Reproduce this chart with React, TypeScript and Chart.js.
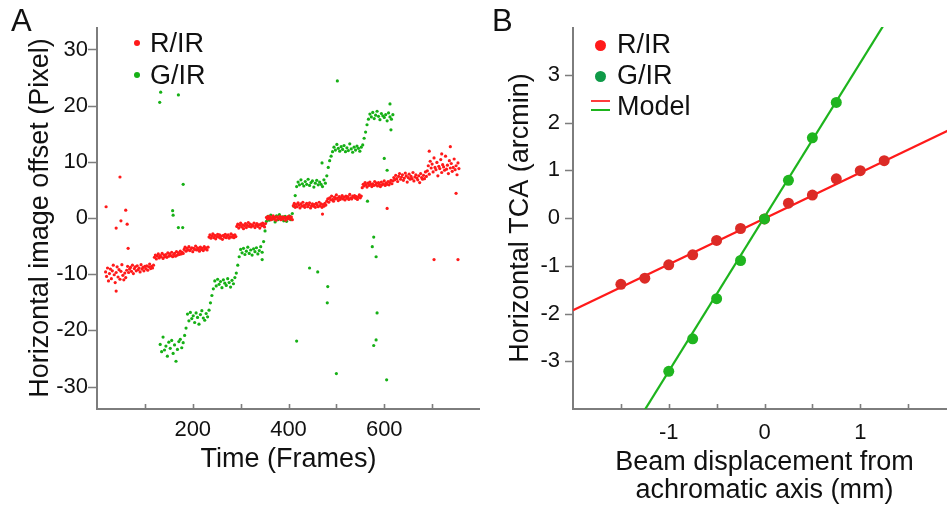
import React, { useEffect, useRef } from 'react';
import { Chart, registerables } from 'chart.js';

Chart.register(...registerables);

const FONT = '"Liberation Sans", Arial, Helvetica, sans-serif';
const AXIS_GREY = '#7d7d7d';

// ---------------- Panel A: image offset vs time ----------------
const redStartFrame = 18;
const redFrameStep = 2;
const redOffsets = [
  -9.6, -10.4, -8.9, -11.2, -9.9, -9.1, -10.8, -9.4, -8.4, -10.1, -11.5, -9.7, -8.7, -10.5, -9.2, -10.9, -9.5, -8.3, -10.2, -11.0, -9.8, -10.6,
  -9.3, -8.6, -9.7, -9.1, -8.8, -9.5, -8.4, -9.9, -9.0, -8.7, -9.4, -8.5, -9.2, -8.9, -9.6, -8.3, -9.1, -8.8, -9.4, -8.6, -9.0, -8.5, -9.3, -8.7, -8.2, -9.0, -8.6, -8.9, -8.4,
  -7.0, -6.6, -7.3, -6.8, -6.4, -7.1, -6.7, -6.9, -6.3, -7.2, -6.6, -6.9, -6.5, -7.0, -6.2, -6.8, -6.4, -6.7, -6.1, -6.9, -6.5, -6.3, -6.8, -6.0, -6.6, -6.2, -6.5, -5.9, -6.4, -6.1, -6.3,
  -5.6, -5.2, -5.9, -5.4, -5.7, -5.1, -5.8, -5.5, -5.3, -6.0, -5.4, -5.6, -5.0, -5.7, -5.3, -5.5, -5.9, -5.2, -5.6, -5.4, -5.8, -5.1, -5.5, -5.3, -5.7, -5.2,
  -3.4, -3.0, -3.6, -3.2, -2.8, -3.5, -3.1, -3.7, -3.3, -2.9, -3.4, -3.0, -3.6, -3.2, -3.8, -3.1, -3.4, -2.9, -3.5, -3.2, -3.0, -3.6, -3.3, -2.8, -3.4, -3.1, -3.5, -3.0, -3.3,
  -1.5, -1.1, -1.8, -1.3, -0.9, -1.6, -1.2, -1.9, -1.4, -1.0, -1.7, -1.3, -0.8, -1.5, -1.1, -1.6, -1.2, -1.4, -0.9, -1.7, -1.3, -1.0, -1.5, -1.2, -1.8, -1.1, -1.4, -0.9, -1.3, -1.6, -1.0,
  0.1, -0.2, 0.3, -0.1, 0.2, -0.3, 0.0, 0.4, -0.2, 0.1, -0.4, 0.2, 0.0, -0.1, 0.3, -0.3, 0.1, -0.2, 0.2, 0.0, -0.4, 0.1, -0.1, 0.3, -0.2, 0.0, 0.2, -0.3,
  2.2, 2.6, 1.9, 2.4, 2.0, 2.7, 2.3, 1.8, 2.5, 2.1, 2.8, 2.2, 1.9, 2.4, 2.6, 2.0, 2.3, 2.7, 1.8, 2.2, 2.5, 2.1, 2.4, 1.9, 2.6, 2.3, 2.0, 2.8, 2.2, 2.5, 1.9, 2.4, 2.1, 2.6, 2.3,
  3.0, 3.4, 2.8, 3.6, 3.2, 3.9, 3.3, 3.0, 3.7, 3.4, 4.1, 3.5, 3.1, 3.8, 3.3, 3.6, 4.0, 3.4, 3.7, 3.2, 3.9, 3.5, 3.8, 3.3, 4.2, 3.6, 3.4, 3.9, 3.7, 4.0, 3.5, 3.8, 3.3, 3.7, 4.1, 3.6, 3.9,
  5.4, 6.0, 5.7, 6.3, 5.9, 5.5, 6.2, 5.8, 6.4, 6.0, 5.6, 6.1, 5.8, 6.5, 5.9, 6.2, 5.7, 6.3, 6.0, 5.6, 6.4, 5.9, 6.1, 6.6, 5.8, 6.2, 6.0, 6.5, 5.9, 6.3, 6.7, 6.1,
  6.6, 7.2, 6.8, 7.6, 7.0, 6.5, 7.4, 7.9, 6.9, 7.3, 7.7, 6.7, 7.1, 8.0, 7.5, 6.4, 7.2, 7.8, 6.9, 7.4, 7.0, 8.1, 6.6, 7.3, 7.7, 7.1, 6.8, 7.5, 6.3, 7.9, 7.2, 6.9, 7.6, 7.0, 8.2, 7.4,
  8.4, 9.3, 7.8, 10.1, 8.9, 9.6, 8.2, 10.7, 9.0, 8.6, 9.9, 7.5, 9.2, 8.8, 10.4, 8.1, 9.5, 9.1, 8.5, 11.0, 8.7, 9.4, 7.9, 10.2, 8.9, 9.7, 8.3, 9.0, 10.5, 8.6, 9.3, 7.7, 9.8, 8.8,
];
const redOutlierFrames = [19, 48, 40, 50, 60, 63, 65, 40, 704, 754, 606, 471, 750, 738, 694, 720];
const redOutlierOffsets = [2.0, 7.3, -1.8, -0.5, 1.4, -1.1, -5.4, -13.0, -7.4, -7.4, 1.7, 0.7, 4.4, 12.7, 11.9, 11.4];

const greenStartFrame = 132;
const greenFrameStep = 3;
const greenOffsets = [
  -22.5, -23.8, -21.2, -23.5, -22.8, -24.6, -22.1, -23.2, -21.8, -24.1, -22.6, -25.5, -23.4, -22.0, -21.6, -23.1, -22.2,
  -20.9, -19.6,
  -17.1, -18.3, -16.8, -17.9, -17.4, -18.6, -16.9, -17.7, -18.9, -17.2, -16.5, -17.8, -18.2, -17.0, -17.6, -16.4,
  -15.1, -13.8, -12.6,
  -11.2, -12.1, -10.9, -11.8, -11.3, -12.4, -11.0, -11.6, -12.0, -10.8, -11.5, -12.3, -11.1, -11.7, -10.6,
  -9.8, -8.4, -6.9,
  -5.6, -6.2, -5.4, -6.5, -5.9, -5.2, -6.3, -5.7, -6.6, -5.5, -6.0, -5.3, -6.4, -5.8, -5.1, -6.1,
  -4.2, -2.3, -0.6,
  0.3, -0.4, 0.5, -0.2, 0.1, -0.7, 0.4, -0.3, 0.6, -0.1, 0.2, -0.5, 0.3, -0.6, 0.0, 0.4, -0.3, 0.8,
  2.1, 4.0, 5.6,
  6.4, 5.9, 6.8, 6.1, 5.7, 6.5, 6.0, 6.9, 5.8, 6.3, 6.6, 5.5, 6.2, 6.7, 5.9, 6.4, 6.0, 5.6, 6.8, 6.2,
  7.5, 9.0, 10.2, 11.0, 11.8,
  12.6, 12.1, 13.1, 12.4, 11.9, 12.7, 12.2, 12.9, 11.8, 12.5, 12.0, 13.2, 12.3, 11.7, 12.6, 12.1, 12.8, 12.4, 11.9, 12.6, 13.0,
  14.2, 15.3, 16.6, 17.6,
  18.5, 18.0, 18.8, 17.7, 18.3, 19.0, 18.1, 17.5, 18.6, 18.2, 17.9, 18.4, 17.3, 18.7, 18.0, 17.6, 18.4,
];
const greenOutlierFrames = [133, 131, 170, 180, 158, 159, 170, 179, 502, 612, 614, 600, 606, 565, 578, 575, 470, 345, 444, 461, 482, 481, 417, 500, 585, 583, 578, 605, 583];
const greenOutlierOffsets = [22.4, 20.6, 21.9, 6.0, 1.3, 0.5, -1.7, -1.7, 24.4, 20.3, 15.7, 10.6, 8.5, 3.0, -3.4, -5.1, 9.8, -7.4, -8.9, -9.6, -12.2, -15.1, -21.9, -27.7, -16.9, -21.7, -22.7, -28.8, -6.9];

const aXMin = 0;
const aXMax = 800;
const aYMin = -34;
const aYMax = 34;
const aXTickLabels = [200, 400, 600];
const aXTickMarks = [100, 200, 300, 400, 500, 600, 700];
const aYTicks = [-30, -20, -10, 0, 10, 20, 30];

// ---------------- Panel B: TCA vs beam displacement ----------------
const bRedX = [-1.5, -1.25, -1, -0.75, -0.5, -0.25, 0, 0.25, 0.5, 0.75, 1, 1.25];
const bRedY = [-1.39, -1.26, -0.98, -0.77, -0.47, -0.22, -0.02, 0.31, 0.48, 0.82, 0.99, 1.2];
const bGreenX = [-1, -0.75, -0.5, -0.25, 0, 0.25, 0.5, 0.75];
const bGreenY = [-3.21, -2.53, -1.69, -0.89, -0.02, 0.79, 1.68, 2.42];
const redModelSlope = 0.96;
const redModelIntercept = -0.01;
const greenModelSlope = 3.23;
const greenModelIntercept = 0.02;
const bXMin = -2;
const bXMax = 2;
const bYMin = -4;
const bYMax = 4;
const bXTickLabels = [-1, 0, 1];
const bXTickMarks = [-1.5, -1, -0.5, 0, 0.5, 1, 1.5];
const bYTicks = [-3, -2, -1, 0, 1, 2, 3];

const seriesFromStep = (start: number, step: number, vals: number[]) =>
  vals.map((v, i) => ({ x: start + i * step, y: v }));
const pairs = (xs: number[], ys: number[]) => xs.map((x, i) => ({ x, y: ys[i] }));

const axisPlugin = {
  id: 'axisPlugin',
  beforeDatasetsDraw(chart: any, _args: any, opts: any) {
    const { ctx, chartArea: ca, scales } = chart;
    const xs = scales.x;
    const ys = scales.y;
    ctx.save();
    ctx.strokeStyle = AXIS_GREY;
    ctx.lineWidth = 2;
    ctx.beginPath();
    ctx.moveTo(ca.left, ca.top);
    ctx.lineTo(ca.left, ca.bottom);
    ctx.lineTo(ca.right, ca.bottom);
    ctx.stroke();
    ctx.lineWidth = 1.6;
    ctx.beginPath();
    for (const v of opts.yMarks) {
      const py = Math.round(ys.getPixelForValue(v)) + 0.5;
      ctx.moveTo(ca.left - opts.yLen, py);
      ctx.lineTo(ca.left, py);
    }
    for (const v of opts.xMarks) {
      const px = Math.round(xs.getPixelForValue(v)) + 0.5;
      ctx.moveTo(px, ca.bottom);
      ctx.lineTo(px, ca.bottom - opts.xLen);
    }
    ctx.stroke();
    ctx.restore();
  },
};

function baseScales(o: any) {
  return {
    x: {
      type: 'linear',
      min: o.xMin,
      max: o.xMax,
      afterFit: (s: any) => { s.height = o.xAxisHeight; },
      afterBuildTicks: (s: any) => { s.ticks = o.xLabels.map((v: number) => ({ value: v })); },
      grid: { display: false, drawTicks: false },
      border: { display: false },
      ticks: {
        color: '#111',
        font: { family: FONT, size: 22 },
        padding: o.xTickPad,
        maxRotation: 0,
        autoSkip: false,
        callback: (v: number) => String(v),
      },
      title: {
        display: true,
        text: o.xTitle,
        color: '#111',
        font: { family: FONT, size: 27, lineHeight: o.xTitleLH },
        padding: { top: 0, bottom: o.xTitlePad },
      },
    },
    y: {
      type: 'linear',
      min: o.yMin,
      max: o.yMax,
      afterFit: (s: any) => { s.width = o.yAxisWidth; },
      afterBuildTicks: (s: any) => { s.ticks = o.yLabels.map((v: number) => ({ value: v })); },
      grid: { display: false, drawTicks: false },
      border: { display: false },
      ticks: {
        color: '#111',
        font: { family: FONT, size: 22 },
        padding: o.yTickPad,
        autoSkip: false,
        callback: (v: number) => String(v),
      },
      title: {
        display: true,
        text: o.yTitle,
        color: '#111',
        font: { family: FONT, size: 27, lineHeight: 1.2 },
        padding: { top: 24, bottom: 0 },
      },
    },
  };
}

function configA(): any {
  return {
    type: 'scatter',
    data: {
      datasets: [
        {
          label: 'R/IR',
          data: [...seriesFromStep(redStartFrame, redFrameStep, redOffsets), ...pairs(redOutlierFrames, redOutlierOffsets)],
          backgroundColor: '#ff1a1a',
          borderWidth: 0,
          pointRadius: 1.6,
        },
        {
          label: 'G/IR',
          data: [...seriesFromStep(greenStartFrame, greenFrameStep, greenOffsets), ...pairs(greenOutlierFrames, greenOutlierOffsets)],
          backgroundColor: '#16b016',
          borderWidth: 0,
          pointRadius: 1.6,
        },
      ],
    },
    options: {
      responsive: false,
      animation: false,
      devicePixelRatio: 1,
      events: [],
      layout: { padding: { top: 27, right: 10, left: 0, bottom: 0 } },
      plugins: {
        legend: { display: false },
        tooltip: { enabled: false },
        axisPlugin: { yMarks: aYTicks, xMarks: aXTickMarks, yLen: 9, xLen: 5 },
      },
      scales: baseScales({
        xMin: aXMin, xMax: aXMax, yMin: aYMin, yMax: aYMax,
        xAxisHeight: 99, yAxisWidth: 97,
        xLabels: aXTickLabels, yLabels: aYTicks,
        xTickPad: 8, yTickPad: 9,
        xTitle: 'Time (Frames)', xTitleLH: 1.2, xTitlePad: 32,
        yTitle: 'Horizontal image offset (Pixel)',
      }),
    },
    plugins: [axisPlugin],
  };
}

function configB(): any {
  const modelXs = [bXMin, bXMax];
  return {
    type: 'scatter',
    data: {
      datasets: [
        {
          label: 'G/IR',
          data: pairs(bGreenX, bGreenY),
          backgroundColor: '#1fb51f',
          borderWidth: 0,
          pointRadius: 5.5,
          order: 1,
        },
        {
          label: 'R/IR',
          data: pairs(bRedX, bRedY),
          backgroundColor: '#dc2b26',
          borderWidth: 0,
          pointRadius: 5.5,
          order: 2,
        },
        {
          label: 'Model G/IR',
          type: 'line',
          data: modelXs.map((x) => ({ x, y: greenModelSlope * x + greenModelIntercept })),
          borderColor: '#1db41d',
          borderWidth: 2.2,
          pointRadius: 0,
          showLine: true,
          order: 3,
        },
        {
          label: 'Model R/IR',
          type: 'line',
          data: modelXs.map((x) => ({ x, y: redModelSlope * x + redModelIntercept })),
          borderColor: '#ff1a1a',
          borderWidth: 2.2,
          pointRadius: 0,
          showLine: true,
          order: 4,
        },
      ],
    },
    options: {
      responsive: false,
      animation: false,
      devicePixelRatio: 1,
      events: [],
      layout: { padding: { top: 27, right: 10, left: 0, bottom: 0 } },
      plugins: {
        legend: { display: false },
        tooltip: { enabled: false },
        axisPlugin: { yMarks: bYTicks, xMarks: bXTickMarks, yLen: 8, xLen: 5 },
      },
      scales: baseScales({
        xMin: bXMin, xMax: bXMax, yMin: bYMin, yMax: bYMax,
        xAxisHeight: 99, yAxisWidth: 93,
        xLabels: bXTickLabels, yLabels: bYTicks,
        xTickPad: 11, yTickPad: 13,
        xTitle: ['Beam displacement from', 'achromatic axis (mm)'], xTitleLH: 28 / 27, xTitlePad: 3,
        yTitle: 'Horizontal TCA (arcmin)',
      }),
    },
    plugins: [axisPlugin],
  };
}

const txt: React.CSSProperties = {
  position: 'absolute',
  fontFamily: FONT,
  fontSize: 27,
  lineHeight: '27px',
  color: '#111',
  whiteSpace: 'nowrap',
};

function Dot({ cx, cy, r, color }: { cx: number; cy: number; r: number; color: string }) {
  return (
    <div
      style={{
        position: 'absolute',
        left: cx - r,
        top: cy - r,
        width: 2 * r,
        height: 2 * r,
        borderRadius: '50%',
        background: color,
      }}
    />
  );
}

export default function App() {
  const refA = useRef<HTMLCanvasElement>(null);
  const refB = useRef<HTMLCanvasElement>(null);

  useEffect(() => {
    const a = new Chart(refA.current as HTMLCanvasElement, configA());
    const b = new Chart(refB.current as HTMLCanvasElement, configB());
    return () => {
      a.destroy();
      b.destroy();
    };
  }, []);

  return (
    <div
      style={{
        position: 'fixed',
        left: 0,
        top: 0,
        width: 947,
        height: 508,
        background: '#fff',
        overflow: 'hidden',
      }}
    >
      <canvas ref={refA} width={490} height={508} style={{ position: 'absolute', left: 0, top: 0 }} />
      <canvas ref={refB} width={486} height={508} style={{ position: 'absolute', left: 480, top: 0 }} />

      {/* Panel letters */}
      <div style={{ ...txt, fontSize: 31, lineHeight: '31px', left: 11, top: 5 }}>A</div>
      <div style={{ ...txt, fontSize: 31, lineHeight: '31px', left: 492, top: 5 }}>B</div>

      {/* Legend A */}
      <Dot cx={137} cy={43} r={3} color="#ff1a1a" />
      <div style={{ ...txt, left: 150, top: 30 }}>R/IR</div>
      <Dot cx={137} cy={75} r={3} color="#16b016" />
      <div style={{ ...txt, left: 150, top: 62 }}>G/IR</div>

      {/* Legend B */}
      <Dot cx={600} cy={45} r={5.5} color="#ff1a1a" />
      <div style={{ ...txt, left: 617, top: 31 }}>R/IR</div>
      <Dot cx={600} cy={76} r={5.5} color="#0f9a48" />
      <div style={{ ...txt, left: 617, top: 62 }}>G/IR</div>
      <div style={{ position: 'absolute', left: 591, top: 100, width: 19, height: 2, background: '#ff3b3b' }} />
      <div style={{ position: 'absolute', left: 591, top: 109, width: 19, height: 2, background: '#1db41d' }} />
      <div style={{ ...txt, left: 617, top: 93 }}>Model</div>
    </div>
  );
}
